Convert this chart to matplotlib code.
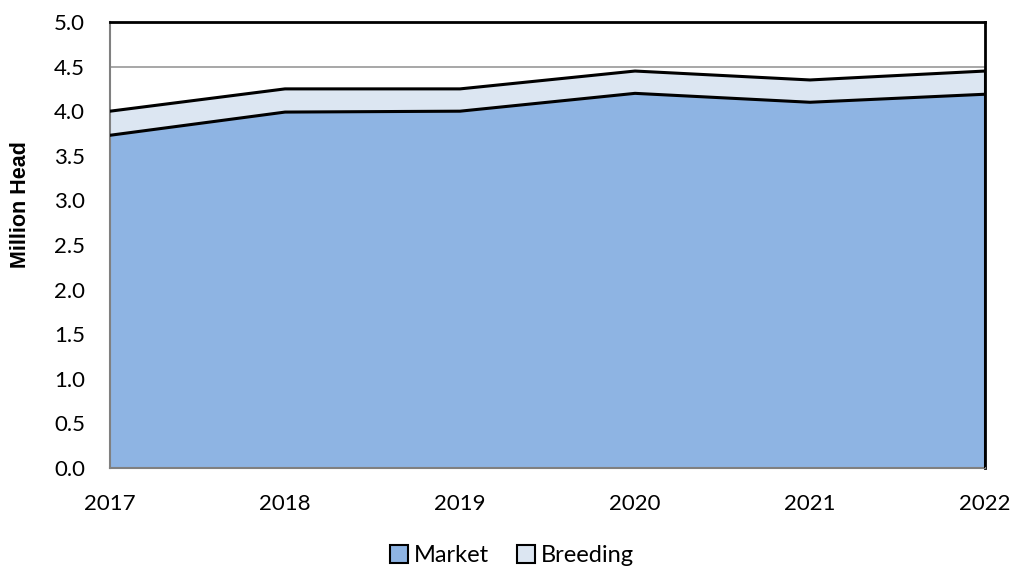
import matplotlib
matplotlib.use("Agg")
import matplotlib.pyplot as plt
from matplotlib.patches import Patch

years = [2017, 2018, 2019, 2020, 2021, 2022]
market = [3.73, 3.99, 4.00, 4.20, 4.10, 4.19]
breeding = [0.27, 0.26, 0.25, 0.25, 0.25, 0.26]
yticks = [0.0, 0.5, 1.0, 1.5, 2.0, 2.5, 3.0, 3.5, 4.0, 4.5, 5.0]

c_market = "#8EB4E3"
c_breed = "#DCE6F2"

fig = plt.figure(figsize=(10.14, 5.74), dpi=100)
ax = fig.add_axes([0.1085, 0.1847, 0.8629, 0.777])

total = [m + b for m, b in zip(market, breeding)]
for y in yticks:
    ax.axhline(y, color="#A0A0A0", lw=1.3, zorder=0)
ax.fill_between(years, 0, market, color=c_market, lw=0, zorder=1)
ax.fill_between(years, market, total, color=c_breed, lw=0, zorder=1)
ax.plot(years, market, color="black", lw=2.2, zorder=3)
ax.plot(years, total, color="black", lw=2.2, zorder=3)
ax.vlines(years[-1], 0, total[-1], color="black", lw=2.2, zorder=3)

ax.set_xlim(years[0], years[-1])
ax.set_ylim(0, 5.0)
ax.set_xticks(years)
ax.set_xticklabels([str(y) for y in years])
ax.set_yticks(yticks)
ax.set_yticklabels([f"{y:.1f}" for y in yticks])
ax.tick_params(axis="both", length=0, labelsize=16)
ax.tick_params(axis="x", pad=19)
ax.tick_params(axis="y", pad=18)
for lab in ax.get_xticklabels() + ax.get_yticklabels():
    lab.set_family("Lato")

for s in ["left", "bottom"]:
    ax.spines[s].set_color("#808080")
    ax.spines[s].set_linewidth(1.5)
for s in ["top", "right"]:
    ax.spines[s].set_color("black")
    ax.spines[s].set_linewidth(2)

ax.set_ylabel("Million Head", fontsize=15.5, fontweight="bold", family="Liberation Sans")
ax.yaxis.set_label_coords(-0.09, 0.59)

handles = [Patch(facecolor=c_market, edgecolor="black", lw=1.5, label="Market"),
           Patch(facecolor=c_breed, edgecolor="black", lw=1.5, label="Breeding")]
fig.legend(handles=handles, loc="center", bbox_to_anchor=(0.505, 0.032), ncol=2, frameon=False,
           prop={"family": "Lato", "size": 17}, handlelength=0.75, handleheight=0.75,
           handletextpad=0.25, columnspacing=1.2)

fig.savefig("out.png", dpi=100)
